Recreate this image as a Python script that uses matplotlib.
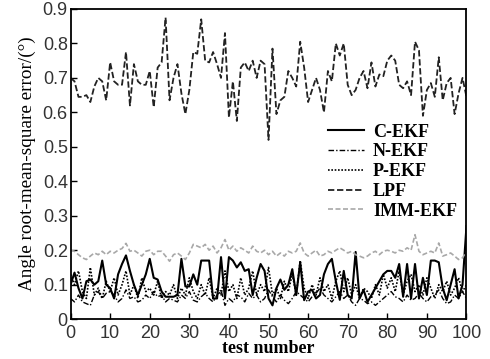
import numpy as np
import matplotlib.pyplot as plt

# data (test number 0..100)
c_ekf = [0.10, 0.135, 0.09, 0.06, 0.11, 0.115, 0.10, 0.11, 0.17, 0.10,
         0.09, 0.06, 0.13, 0.16, 0.185, 0.14, 0.10, 0.07, 0.10, 0.13,
         0.175, 0.12, 0.115, 0.08, 0.065, 0.065, 0.065, 0.07, 0.175, 0.095,
         0.095, 0.13, 0.10, 0.17, 0.17, 0.17, 0.06, 0.06, 0.18, 0.06,
         0.18, 0.17, 0.15, 0.165, 0.14, 0.145, 0.07, 0.12, 0.16, 0.14,
         0.06, 0.04, 0.09, 0.115, 0.085, 0.10, 0.145, 0.07, 0.165, 0.055,
         0.08, 0.085, 0.06, 0.07, 0.13, 0.16, 0.175, 0.11, 0.056, 0.14,
         0.07, 0.06, 0.195, 0.06, 0.085, 0.05, 0.07, 0.09, 0.11, 0.13,
         0.14, 0.14, 0.12, 0.16, 0.065, 0.16, 0.06, 0.16, 0.06, 0.12,
         0.07, 0.17, 0.17, 0.165, 0.09, 0.055, 0.10, 0.145, 0.06, 0.10,
         0.27]

n_ekf = [0.06, 0.05, 0.07, 0.05, 0.045, 0.04, 0.07, 0.08, 0.06, 0.075,
         0.08, 0.07, 0.05, 0.06, 0.085, 0.06, 0.065, 0.05, 0.055, 0.07,
         0.06, 0.08, 0.065, 0.07, 0.05, 0.06, 0.055, 0.05, 0.07, 0.06,
         0.08, 0.055, 0.05, 0.065, 0.075, 0.06, 0.05, 0.07, 0.085, 0.04,
         0.06, 0.05, 0.07, 0.065, 0.05, 0.075, 0.06, 0.07, 0.05, 0.06,
         0.085, 0.065, 0.05, 0.07, 0.055, 0.045, 0.06, 0.08, 0.07, 0.06,
         0.05, 0.065, 0.075, 0.09, 0.07, 0.06, 0.05, 0.065, 0.08, 0.06,
         0.07, 0.05, 0.04, 0.06, 0.055, 0.045, 0.05, 0.04, 0.05, 0.06,
         0.07, 0.08, 0.065, 0.06, 0.05, 0.07, 0.055, 0.06, 0.075, 0.06,
         0.05, 0.065, 0.07, 0.085, 0.06, 0.045, 0.05, 0.07, 0.06, 0.08,
         0.06]

p_ekf = [0.13, 0.10, 0.14, 0.08, 0.06, 0.15, 0.07, 0.09, 0.06, 0.11,
         0.08, 0.12, 0.07, 0.10, 0.14, 0.07, 0.10, 0.06, 0.12, 0.08,
         0.09, 0.07, 0.11, 0.06, 0.08, 0.07, 0.10, 0.06, 0.09, 0.07,
         0.12, 0.08, 0.06, 0.10, 0.07, 0.12, 0.06, 0.09, 0.07, 0.14,
         0.08, 0.10, 0.06, 0.12, 0.07, 0.09, 0.14, 0.07, 0.10, 0.08,
         0.15, 0.07, 0.09, 0.06, 0.11, 0.08, 0.13, 0.07, 0.17, 0.09,
         0.06, 0.10, 0.07, 0.12, 0.08, 0.10, 0.06, 0.11, 0.14, 0.08,
         0.12, 0.07, 0.10, 0.06, 0.09, 0.08, 0.06, 0.10, 0.07, 0.13,
         0.09, 0.12, 0.08, 0.14, 0.07, 0.11, 0.13, 0.08, 0.10, 0.07,
         0.12, 0.09, 0.06, 0.10, 0.08, 0.11, 0.07, 0.09, 0.12, 0.08,
         0.10]

lpf = [0.70, 0.69, 0.645, 0.645, 0.65, 0.63, 0.675, 0.70, 0.69, 0.635,
       0.745, 0.69, 0.68, 0.68, 0.775, 0.62, 0.74, 0.69, 0.68, 0.68,
       0.72, 0.615, 0.73, 0.745, 0.875, 0.635, 0.70, 0.74, 0.655, 0.595,
       0.665, 0.775, 0.77, 0.87, 0.75, 0.745, 0.775, 0.74, 0.70, 0.83,
       0.585, 0.69, 0.575, 0.73, 0.745, 0.72, 0.75, 0.70, 0.75, 0.74,
       0.52, 0.785, 0.595, 0.635, 0.645, 0.72, 0.70, 0.675, 0.805, 0.73,
       0.63, 0.665, 0.70, 0.665, 0.60, 0.72, 0.69, 0.80, 0.765, 0.80,
       0.68, 0.65, 0.665, 0.70, 0.72, 0.67, 0.745, 0.675, 0.71, 0.705,
       0.75, 0.765, 0.75, 0.68, 0.67, 0.69, 0.65, 0.805, 0.78, 0.59,
       0.665, 0.685, 0.645, 0.76, 0.635, 0.685, 0.70, 0.595, 0.655, 0.70,
       0.645]

imm_ekf = [0.20, 0.197, 0.187, 0.178, 0.173, 0.183, 0.192, 0.187, 0.197, 0.187,
           0.197, 0.192, 0.20, 0.205, 0.22, 0.197, 0.20, 0.192, 0.183, 0.197,
           0.20, 0.187, 0.197, 0.197, 0.183, 0.168, 0.187, 0.192, 0.183, 0.173,
           0.192, 0.217, 0.212, 0.207, 0.217, 0.20, 0.212, 0.192, 0.207, 0.231,
           0.20, 0.212, 0.197, 0.207, 0.20, 0.192, 0.212, 0.197, 0.192, 0.20,
           0.187, 0.197, 0.183, 0.192, 0.183, 0.197, 0.192, 0.197, 0.221, 0.192,
           0.183, 0.192, 0.20, 0.183, 0.187, 0.197, 0.192, 0.20, 0.207, 0.20,
           0.192, 0.197, 0.187, 0.183, 0.178, 0.183, 0.192, 0.197, 0.187, 0.197,
           0.20, 0.197, 0.192, 0.20, 0.197, 0.207, 0.20, 0.245, 0.197, 0.187,
           0.192, 0.197, 0.192, 0.221, 0.183, 0.187, 0.192, 0.183, 0.173, 0.178,
           0.197]

xticks = [0, 10, 20, 30, 40, 50, 60, 70, 80, 90, 100]
yticks = [0, 0.1, 0.2, 0.3, 0.4, 0.5, 0.6, 0.7, 0.8, 0.9]
ytick_labels = ["0", "0.1", "0.2", "0.3", "0.4", "0.5", "0.6", "0.7", "0.8", "0.9"]


def main():
    fig = plt.figure(figsize=(4.9, 3.59), dpi=100)
    ax = fig.add_axes([0.144, 0.111, 0.808, 0.864])

    serif = ["Liberation Serif", "DejaVu Serif"]
    sans = ["Liberation Sans", "DejaVu Sans"]

    ax.plot(np.arange(len(c_ekf)), c_ekf, color="black", lw=1.5, label="C-EKF")
    ax.plot(np.arange(len(n_ekf)), n_ekf, color="black", lw=1.0,
            linestyle=(0, (4, 1.5, 1, 1.5)), label="N-EKF")
    ax.plot(np.arange(len(p_ekf)), p_ekf, color="black", lw=1.2,
            linestyle=(0, (1, 1)), label="P-EKF")
    ax.plot(np.arange(len(lpf)), lpf, color="#222222", lw=1.3,
            linestyle=(0, (3.5, 1.5)), label="LPF")
    ax.plot(np.arange(len(imm_ekf)), imm_ekf, color="#a8a8a8", lw=1.2,
            linestyle=(0, (3, 1.5)), label="IMM-EKF")

    ax.set_xlim(0, 100)
    ax.set_ylim(0, 0.9)
    ax.set_xticks(xticks)
    ax.set_yticks(yticks)
    ax.set_yticklabels(ytick_labels)
    ax.tick_params(direction="in", length=4, width=1, labelsize=13)
    ax.tick_params(axis="x", pad=4)
    ax.tick_params(axis="y", pad=2)
    for lab in ax.get_xticklabels() + ax.get_yticklabels():
        lab.set_family(sans)
        lab.set_color("#333333")
    for sp in ax.spines.values():
        sp.set_linewidth(1.3)

    ax.set_xlabel("test number", family=serif, fontsize=13, fontweight="bold", labelpad=-1)
    ax.set_ylabel("Angle root-mean-square error/(°)", family=serif, fontsize=13.8, labelpad=5)

    ax.legend(loc="upper left", bbox_to_anchor=(0.65, 0.63), frameon=False,
              prop={"family": serif, "size": 13, "weight": "bold"},
              handlelength=2.0, handletextpad=0.5, labelspacing=0.15, borderaxespad=0,
              borderpad=0)

    fig.savefig("out.png", dpi=100)


if __name__ == "__main__":
    main()
